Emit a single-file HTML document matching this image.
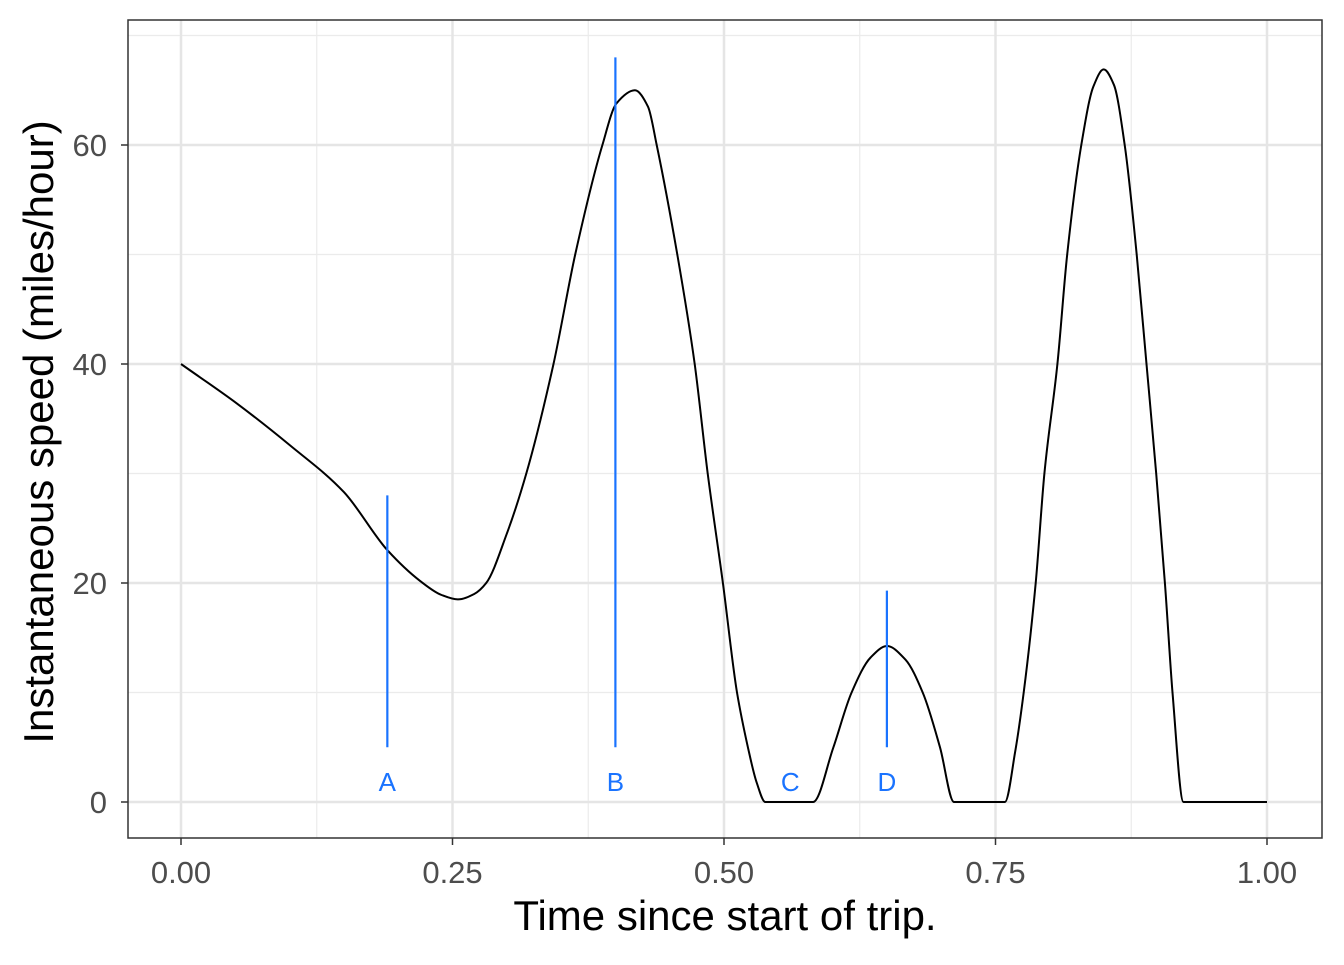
<!DOCTYPE html>
<html><head><meta charset="utf-8"><style>
body{margin:0;background:#fff}
svg text{font-family:"Liberation Sans",sans-serif}
</style></head><body>
<svg id="chart" width="1344" height="960" xmlns="http://www.w3.org/2000/svg"></svg>
<script>
const curveX=[0,0.05,0.1,0.15,0.19,0.22,0.24,0.255,0.27,0.281,0.30,0.318,0.343,0.363,0.388,0.401,0.418,0.43,0.438,0.457,0.473,0.485,0.499,0.512,0.522,0.53,0.538,0.582,0.6007,0.6175,0.635,0.65,0.667,0.683,0.6989,0.7118,0.7587,0.768,0.776,0.787,0.795,0.807,0.816,0.829,0.84,0.8496,0.859,0.869,0.880,0.889,0.898,0.906,0.913,0.9231,1.0];
const curveY=[40,36.5,32.6,28.3,23,20.2,18.9,18.5,19,20,24.5,30,40,50,60,63.8,65,63.5,60,50,40,30,20,10,5,1.8,0,0,5,10,13.2,14.25,13,10,5,0,0,4.5,10,20,30,40,50,60,65.3,66.9,65.5,60,50,40,30,20,10,0,0];
const markerLabels=["A","B","C","D"];
const markerX=[0.19,0.40,0.561,0.65];
const markerTop=[28,68,null,19.3];
const markerBottom=[5,5,null,5];
const xTicks=[0,0.25,0.5,0.75,1];
const xTickLabels=["0.00","0.25","0.50","0.75","1.00"];
const yTicks=[0,20,40,60];
const xMinor=[0.125,0.375,0.625,0.875];
const yMinor=[10,30,50,70];
const svg=document.getElementById('chart');
const NS="http://www.w3.org/2000/svg";
const L=128,R=1322,T=20,B=838;
const sx=v=>181+v*1086;
const sy=v=>802-v*10.95;
function mk(tag,attrs,parent){const e=document.createElementNS(NS,tag);for(const k in attrs)e.setAttribute(k,attrs[k]);(parent||svg).appendChild(e);return e;}
const bg=mk('rect',{x:L,y:T,width:R-L,height:B-T,fill:'#fff'});


xMinor.forEach(v=>{const l=mk('line',{x1:sx(v),x2:sx(v),y1:T,y2:B,stroke:'#ebebeb','stroke-width':1.2});

});
yMinor.forEach(v=>{const l=mk('line',{x1:L,x2:R,y1:sy(v),y2:sy(v),stroke:'#ebebeb','stroke-width':1.2});

});
xTicks.forEach((v,i)=>{const l=mk('line',{x1:sx(v),x2:sx(v),y1:T,y2:B,stroke:'#e5e5e5','stroke-width':2.5});


const t=mk('line',{x1:sx(v),x2:sx(v),y1:B,y2:B+7,stroke:'#333','stroke-width':1.5});


const tx=mk('text',{x:sx(v),y:883,'text-anchor':'middle','font-size':31,fill:'#4d4d4d'});tx.textContent=xTickLabels[i];

});
yTicks.forEach(v=>{const l=mk('line',{x1:L,x2:R,y1:sy(v),y2:sy(v),stroke:'#e5e5e5','stroke-width':2.5});


const t=mk('line',{x1:L-7,x2:L,y1:sy(v),y2:sy(v),stroke:'#333','stroke-width':1.5});


const tx=mk('text',{x:L-21,y:sy(v)+11,'text-anchor':'end','font-size':31,fill:'#4d4d4d'});tx.textContent=String(v);

});
// Monotone cubic (Fritsch-Carlson) interpolation through the data points
const n=curveX.length;
const h=[],dl=[];
for(let i=0;i<n-1;i++){h.push(curveX[i+1]-curveX[i]);dl.push((curveY[i+1]-curveY[i])/h[i]);}
const m=new Array(n);
m[0]=dl[0];m[n-1]=dl[n-2];
for(let i=1;i<n-1;i++){
 const d0=dl[i-1],d1=dl[i];
 if(d0*d1<=0){m[i]=0;}else{const h0=h[i-1],h1=h[i];m[i]=3*(h0+h1)/((2*h1+h0)/d0+(h1+2*h0)/d1);}
}
let d='M'+sx(curveX[0]).toFixed(1)+','+sy(curveY[0]).toFixed(1);
for(let i=0;i<n-1;i++){
 const x1=curveX[i]+h[i]/3,y1=curveY[i]+m[i]*h[i]/3;
 const x2=curveX[i+1]-h[i]/3,y2=curveY[i+1]-m[i+1]*h[i]/3;
 d+=' C'+sx(x1).toFixed(1)+','+sy(y1).toFixed(1)+' '+sx(x2).toFixed(1)+','+sy(y2).toFixed(1)+' '+sx(curveX[i+1]).toFixed(1)+','+sy(curveY[i+1]).toFixed(1);
}
const line=mk('path',{d:d,fill:'none',stroke:'#000','stroke-width':2,'stroke-linejoin':'round'});


markerLabels.forEach((lab,i)=>{
 if(markerTop[i]!==null){const l=mk('line',{x1:sx(markerX[i]),x2:sx(markerX[i]),y1:sy(markerTop[i]),y2:sy(markerBottom[i]),stroke:'#1a73ff','stroke-width':2.2});
 
 }
 const t=mk('text',{x:sx(markerX[i]),y:791,'text-anchor':'middle','font-size':26,fill:'#1a73ff'});t.textContent=lab;
 
 
});
const fr=mk('rect',{x:L,y:T,width:R-L,height:B-T,fill:'none',stroke:'#333','stroke-width':1.5});


const xt=mk('text',{x:725,y:930,'text-anchor':'middle','font-size':42,fill:'#000'});xt.textContent='Time since start of trip.';


const yt=mk('text',{x:0,y:0,'text-anchor':'middle','font-size':42,fill:'#000',transform:'translate(53,432) rotate(-90)'});yt.textContent='Instantaneous speed (miles/hour)';


</script>
</body></html>
